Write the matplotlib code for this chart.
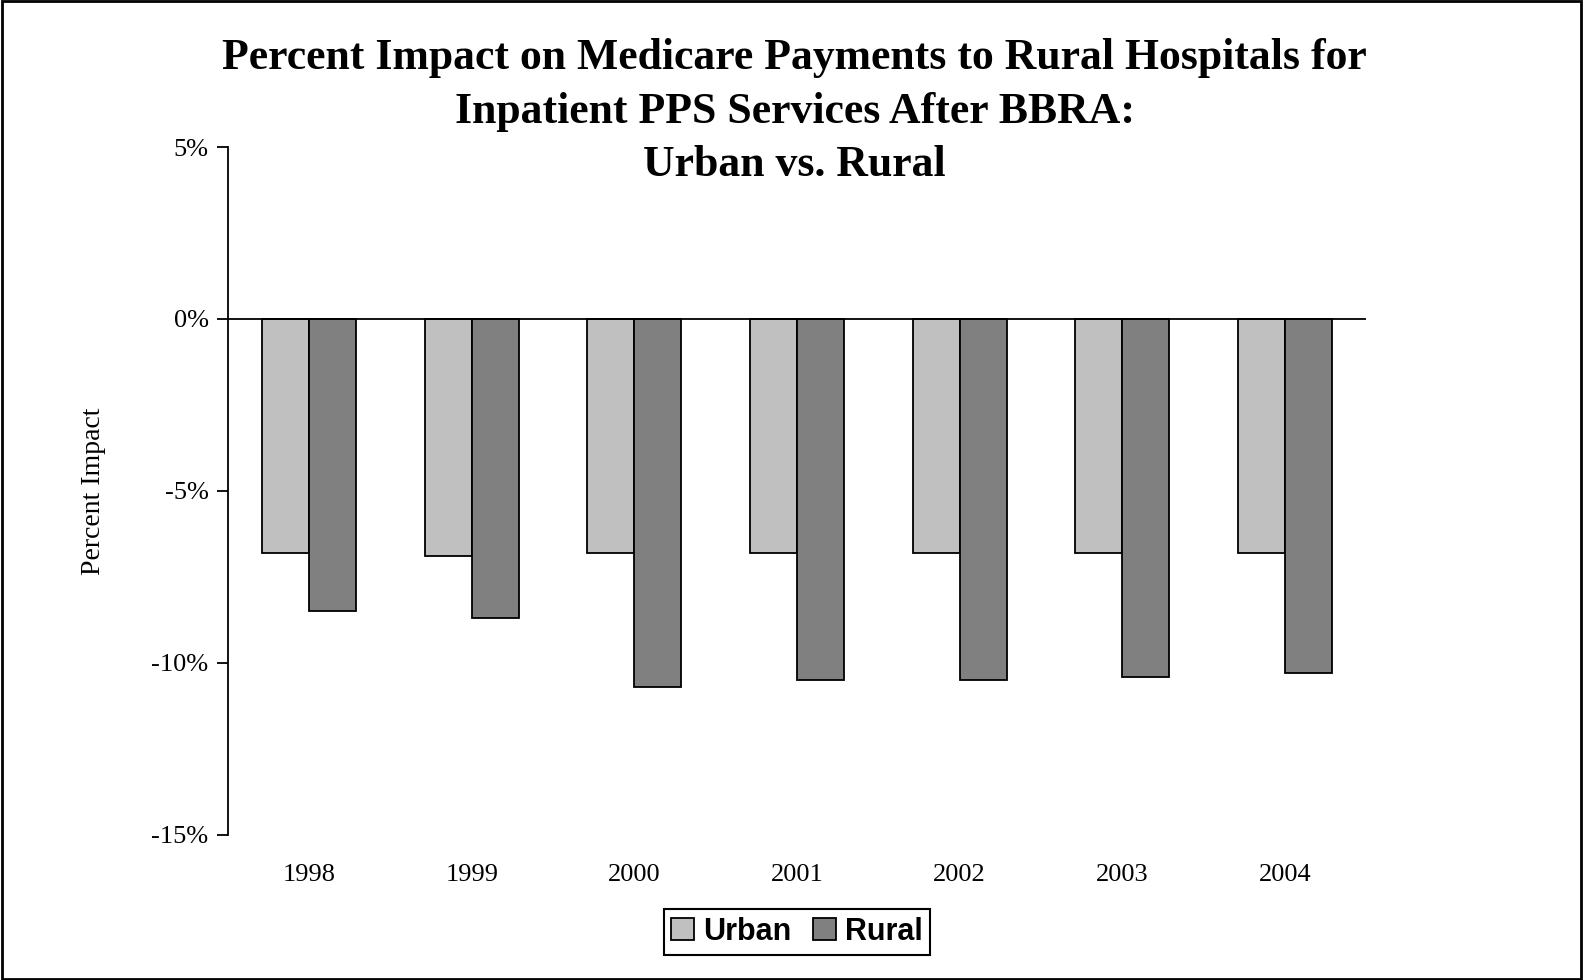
import matplotlib.pyplot as plt
import numpy as np
from matplotlib.patches import Rectangle
from matplotlib.ticker import FuncFormatter

years = ['1998', '1999', '2000', '2001', '2002', '2003', '2004']
urban = [-6.8, -6.9, -6.8, -6.8, -6.8, -6.8, -6.8]
rural = [-8.5, -8.7, -10.7, -10.5, -10.5, -10.4, -10.3]

serif = ['Liberation Serif', 'DejaVu Serif']
sans = ['Liberation Sans', 'DejaVu Sans']

fig = plt.figure(figsize=(15.83, 9.8), dpi=100)
ax = fig.add_axes([0.144, 0.148, 0.719, 0.702])

x = np.arange(len(years))
w = 0.289
ax.bar(x - w / 2, urban, w, color='#c0c0c0', edgecolor='black', linewidth=1.3, label='Urban')
ax.bar(x + w / 2, rural, w, color='#808080', edgecolor='black', linewidth=1.3, label='Rural')
ax.axhline(0, color='black', linewidth=1.3)

ax.set_xlim(-0.5, len(years) - 0.5)
ax.set_ylim(-15, 5)
ax.set_yticks([5, 0, -5, -10, -15])
ax.yaxis.set_major_formatter(FuncFormatter(lambda v, p: f'{v:.0f}%'))
ax.set_xticks(x)
ax.set_xticklabels(years)

for s in ['top', 'right', 'bottom']:
    ax.spines[s].set_visible(False)
ax.spines['left'].set_linewidth(1.3)
ax.tick_params(axis='y', direction='out', length=8, width=1.3, pad=6, labelsize=19)
ax.tick_params(axis='x', length=0, pad=21, labelsize=19)
for lab in ax.get_xticklabels() + ax.get_yticklabels():
    lab.set_family(serif)

ax.set_ylabel('Percent Impact', family=serif, fontsize=20, labelpad=33)

fig.text(0.502, 0.886, 'Percent Impact on Medicare Payments to Rural Hospitals for\n'
         'Inpatient PPS Services After BBRA:\nUrban vs. Rural',
         ha='center', va='center', family=serif, fontweight='bold', fontsize=31.5,
         linespacing=1.43)

leg = ax.legend(loc='center', bbox_to_anchor=(0.5, -0.141), ncol=2, frameon=True,
                fancybox=False, edgecolor='black', framealpha=1,
                prop={'family': sans, 'weight': 'bold', 'size': 22},
                handlelength=0.75, handleheight=0.75, handletextpad=0.3,
                columnspacing=0.7, borderpad=0.25)
leg.get_frame().set_linewidth(1.5)

fig.patches.append(Rectangle((0.001, 0.001), 0.998, 0.998, transform=fig.transFigure,
                             fill=False, edgecolor='black', linewidth=2))

fig.savefig('out.png', dpi=100)
